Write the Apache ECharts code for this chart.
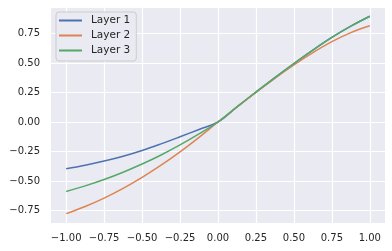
<!DOCTYPE html>
<html>
<head>
<meta charset="utf-8">
<script src="https://cdn.jsdelivr.net/npm/echarts@6/dist/echarts.min.js"></script>
<style>
  html, body { margin: 0; padding: 0; background: #fff; }
  #chart { width: 392px; height: 251px; }
</style>
</head>
<body>
<div id="chart"></div>
<script>
const xs = [-1, -0.875, -0.75, -0.625, -0.5, -0.375, -0.25, -0.125, 0,
  0.125, 0.25, 0.375, 0.5, 0.625, 0.75, 0.875, 1];
const layer1 = [-0.396, -0.366, -0.331, -0.29, -0.241, -0.185, -0.125, -0.063, 0,
  0.128, 0.253, 0.376, 0.495, 0.609, 0.716, 0.811, 0.895];
const layer2 = [-0.776, -0.715, -0.644, -0.562, -0.469, -0.366, -0.253, -0.13, 0,
  0.127, 0.251, 0.37, 0.483, 0.587, 0.68, 0.757, 0.815];
const layer3 = [-0.588, -0.541, -0.487, -0.425, -0.356, -0.279, -0.194, -0.101, 0,
  0.128, 0.253, 0.376, 0.495, 0.609, 0.716, 0.811, 0.895];
const xTicks = [-1, -0.75, -0.5, -0.25, 0, 0.25, 0.5, 0.75, 1];
const yTicks = [-0.75, -0.5, -0.25, 0, 0.25, 0.5, 0.75];

const BLUE = '#4C72B0';
const ORANGE = '#DD8452';
const GREEN = '#55A868';
const FONT = 'DejaVu Sans';

const fmt = v => v.toFixed(2).replace('-', '\u2212');
const pairs = ys => ys.map((y, i) => [xs[i], y]);

const makeLine = (name, color, ys) => ({
  name,
  type: 'line',
  smooth: 0.4,
  showSymbol: false,
  itemStyle: { color },
  lineStyle: { width: 1.5, color },
  data: pairs(ys)
});

const chart = echarts.init(document.getElementById('chart'), null, { renderer: 'canvas' });
chart.setOption({
  animation: false,
  textStyle: { fontFamily: FONT },
  grid: {
    left: 51, right: 7, top: 8, bottom: 28,
    show: true, backgroundColor: '#EAEAF2', borderWidth: 0
  },
  legend: {
    orient: 'vertical',
    left: 56, top: 12,
    padding: [2, 6, 4, 3],
    itemGap: 2,
    itemWidth: 23,
    itemHeight: 2,
    icon: 'rect',
    backgroundColor: '#EAEAF2',
    borderColor: '#cccccc',
    borderWidth: 1,
    borderRadius: 3,
    textStyle: { fontFamily: FONT, fontSize: 10.5, lineHeight: 13, color: '#262626', padding: [0, 0, 0, 4] },
    data: ['Layer 1', 'Layer 2', 'Layer 3']
  },
  xAxis: {
    type: 'value',
    min: -1.1, max: 1.1,
    axisLine: { show: false },
    axisTick: { show: false, customValues: xTicks },
    axisLabel: {
      customValues: xTicks,
      formatter: fmt,
      color: '#262626', fontFamily: FONT, fontSize: 10, margin: 10
    },
    splitLine: { show: true, lineStyle: { color: '#ffffff', width: 1.2 } }
  },
  yAxis: {
    type: 'value',
    min: -0.855, max: 0.965,
    axisLine: { show: false },
    axisTick: { show: false, customValues: yTicks },
    axisLabel: {
      customValues: yTicks,
      formatter: fmt,
      color: '#262626', fontFamily: FONT, fontSize: 10, margin: 11
    },
    splitLine: { show: true, lineStyle: { color: '#ffffff', width: 1.2 } }
  },
  series: [
    makeLine('Layer 1', BLUE, layer1),
    makeLine('Layer 2', ORANGE, layer2),
    makeLine('Layer 3', GREEN, layer3)
  ]
});
</script>
</body>
</html>
